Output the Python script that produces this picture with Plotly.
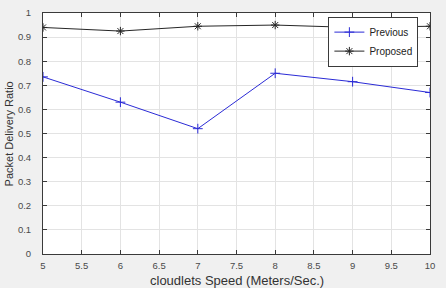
import plotly.graph_objects as go

speeds = [5, 6, 7, 8, 9, 10]
previous = [0.735, 0.63, 0.52, 0.75, 0.715, 0.67]
proposed = [0.94, 0.925, 0.945, 0.95, 0.94, 0.945]
x_ticks = [5, 5.5, 6, 6.5, 7, 7.5, 8, 8.5, 9, 9.5, 10]
y_ticks = [0, 0.1, 0.2, 0.3, 0.4, 0.5, 0.6, 0.7, 0.8, 0.9, 1]
x_title = "cloudlets Speed (Meters/Sec.)"
y_title = "Packet Delivery Ratio"

FONT = "Liberation Sans, Arial, sans-serif"

fig = go.Figure()
fig.add_trace(go.Scatter(
    x=speeds, y=previous, name="Previous", mode="lines+markers",
    line=dict(color="#2b2bd6", width=1),
    marker=dict(symbol="cross-thin-open", size=7, line=dict(color="#2b2bd6", width=1)),
))
fig.add_trace(go.Scatter(
    x=speeds, y=proposed, name="Proposed", mode="lines+markers",
    line=dict(color="#262626", width=1),
    marker=dict(symbol="asterisk-open", size=7, line=dict(color="#262626", width=1)),
))

axis_common = dict(
    showline=True, linecolor="#3a3a3a", linewidth=1, mirror="ticks",
    ticks="inside", ticklen=4, tickcolor="#3a3a3a",
    showgrid=True, gridcolor="#e3e3e3", gridwidth=1, zeroline=False,
    automargin=False,
    tickfont=dict(family=FONT, size=9.5, color="#4a4a4a"),
)

fig.update_xaxes(range=[5, 10], tickvals=x_ticks, ticktext=[f"{t:g}" for t in x_ticks],
                 ticklabelstandoff=3, **axis_common)
fig.update_yaxes(range=[0, 1], tickvals=y_ticks, ticktext=[f"{t:g}" for t in y_ticks],
                 ticklabelstandoff=9, **axis_common)

fig.add_annotation(text=x_title, xref="paper", yref="paper", x=0.5, y=-0.108,
                   xanchor="center", yanchor="middle", showarrow=False,
                   font=dict(family=FONT, size=13, color="#333333"))
fig.add_annotation(text=y_title, xref="paper", yref="paper", x=-0.088, y=0.5,
                   xanchor="center", yanchor="middle", showarrow=False, textangle=-90,
                   font=dict(family=FONT, size=11, color="#333333"))

fig.update_layout(
    width=446, height=288,
    margin=dict(l=43, r=16, t=13, b=34, autoexpand=False),
    paper_bgcolor="#f0f0f0", plot_bgcolor="white",
    showlegend=True,
    legend=dict(x=0.97, y=0.985, xanchor="right", yanchor="top",
                bgcolor="white", bordercolor="#3a3a3a", borderwidth=1,
                font=dict(family=FONT, size=10, color="#222222"),
                tracegroupgap=0, itemwidth=30),
)

fig.write_html("out.html", config={"displayModeBar": False, "staticPlot": True},
               post_script="document.body.style.margin='0px';document.body.style.padding='0px';")
